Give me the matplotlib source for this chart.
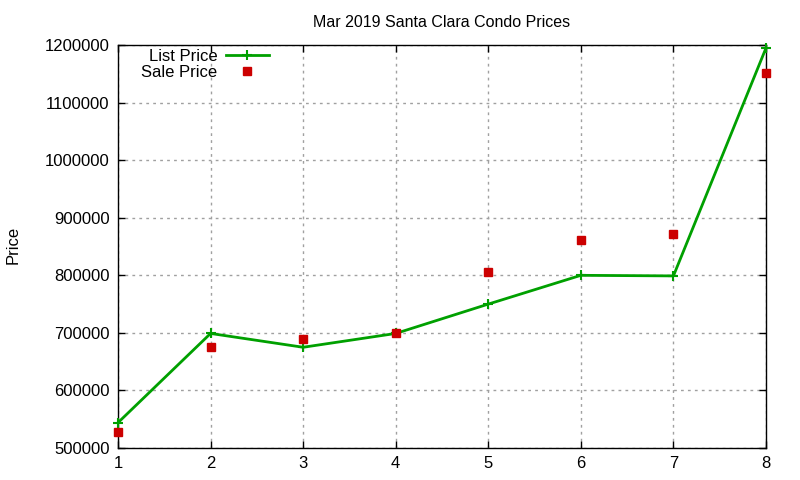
import matplotlib
matplotlib.use("Agg")
import matplotlib.pyplot as plt

plt.rcParams['font.family'] = ['Liberation Sans', 'DejaVu Sans']

# data
rank = [1, 2, 3, 4, 5, 6, 7, 8]
list_price = [544000, 699000, 675000, 699000, 750000, 800000, 799000, 1195000]
sale_price = [528000, 675000, 690000, 700000, 806000, 861000, 872000, 1151000]
yticks = [500000, 600000, 700000, 800000, 900000, 1000000, 1100000, 1200000]

fig = plt.figure(figsize=(8, 4.8), dpi=100)
ax = fig.add_axes([0.1475, 0.0667, 0.81, 0.8393])

ax.plot(rank, list_price, color='#00a000', linewidth=2, marker='+',
        markersize=7, markeredgewidth=1.5, label='List Price', clip_on=False,
        zorder=3)
ax.plot(rank, sale_price, linestyle='none', marker='s', markersize=6,
        color='#cc0000', label='Sale Price', clip_on=False, zorder=4)

ax.set_xlim(1, 8)
ax.set_ylim(500000, 1200000)
ax.set_xticks(rank)
ax.set_yticks(yticks)
ax.set_yticklabels([str(v) for v in yticks])
ax.tick_params(direction='in', top=True, right=True, labelsize=12,
               length=5, width=1)
ax.tick_params(axis='x', pad=6)
ax.tick_params(axis='y', pad=6)
ax.grid(True, color='#a0a0a0', linestyle=(0, (2, 3)), linewidth=1)
for s in ax.spines.values():
    s.set_linewidth(1)

ax.set_title('Mar 2019 Santa Clara Condo Prices', fontsize=11.5, pad=13)
fig.text(0.007, 0.49, 'Price', rotation=90, fontsize=12, va='center')

leg = ax.legend(loc='upper left', bbox_to_anchor=(0.036, 0.99), frameon=False,
                markerfirst=False, fontsize=12, handlelength=2.6,
                labelspacing=0.05, borderaxespad=0, borderpad=0,
                handletextpad=0.5)
for t in leg.get_texts():
    t.set_ha('right')

fig.savefig('out.png', dpi=100)
